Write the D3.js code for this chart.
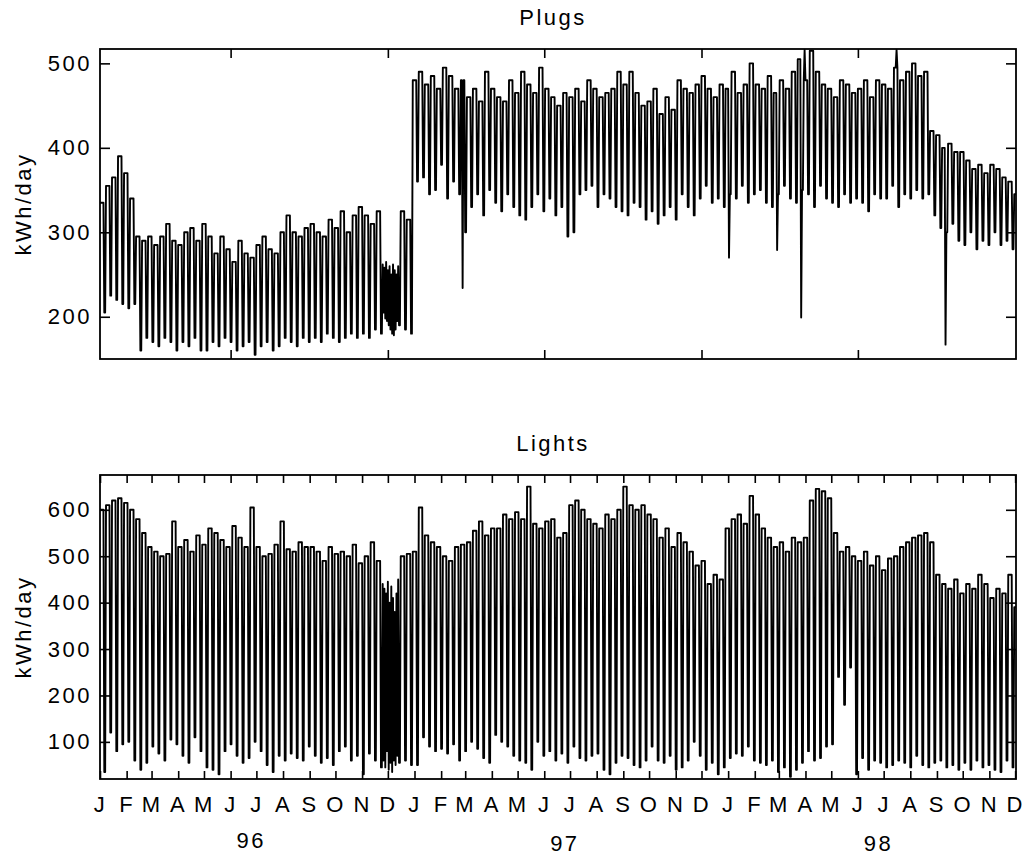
<!DOCTYPE html>
<html>
<head>
<meta charset="utf-8">
<script src="https://cdn.jsdelivr.net/npm/d3@7"></script>
<style>
body { margin: 0; background: #fff; }
svg { display: block; font-family: "Liberation Sans", Arial, sans-serif; }
.lbl { font-size: 22px; letter-spacing: 2.5px; fill: #000; }
</style>
</head>
<body>
<div id="chart"></div>
<script>
// Daily energy use.
// Weeks start Monday 1 Jan 1996; Mon-Fri take the weekday level, Sat-Sun the weekend level.
const weekStart = "1996-01-01";
const axisEnd = "1998-12-02";

const plugsWeekday = [
  // 1996 J F M A M J J A S O N D
  335, 355, 365, 390, 370,  340, 295, 290, 295,  285, 295, 310, 290,  285, 300, 305, 290,
  310, 295, 275, 295, 280,  265, 290, 275, 270,  285, 295, 280, 275, 300,  320, 300, 295, 305,
  310, 300, 295, 315,  305, 325, 300, 320,  330, 320, 310, 325, 320,  265, 260, 325, 315,
  // 1997
  480,  490, 475, 485, 470,  495, 485, 470, 480,  460, 470, 455, 490,  470, 460, 455, 480, 465,
  490, 475, 465, 495,  470, 460, 450, 465,  460, 470, 455, 480, 470,  460, 465, 470, 490,
  475, 490, 465, 450,  455, 470, 440, 460, 445,  480, 470, 465, 475,  485, 470, 460, 475,
  // 1998
  470,  490, 465, 475, 500,  475, 470, 485, 465,  480, 470, 490, 505,  480, 515, 490, 475, 470,
  460, 480, 475, 465,  470, 480, 460, 480,  475, 470, 495, 480, 490,  500, 485, 490,  420,
  415, 400, 405, 395,  395, 385, 375, 380, 370,  380, 375, 365, 360,  345
];

const plugsWeekend = [
  // 1996
  205, 225, 220, 215, 210,  215, 160, 175, 170,  165, 175, 170, 160,  170, 165, 175, 160,
  160, 170, 165, 175, 170,  160, 165, 170, 155,  165, 170, 160, 165, 175,  170, 165, 175, 170,
  175, 170, 180, 175,  170, 175, 180, 175,  180, 175, 185, 180, 190,  200, 190, 185, 180,
  // 1997
  360,  365, 345, 350, 380,  340, 360, 345, 300,  330, 345, 320, 350,  335, 325, 345, 330, 320,
  315, 330, 345, 325,  340, 320, 330, 295,  300, 345, 350, 355, 330,  345, 340, 330, 325,
  320, 335, 330, 315,  325, 310, 320, 330, 315,  345, 330, 320, 340,  355, 335, 340, 330,
  // 1998
  345,  340, 355, 335, 345,  350, 335, 330, 345,  355, 340, 335, 350,  345, 330, 355, 340, 335,
  330, 345, 335, 340,  335, 325, 345, 340,  340, 355, 330, 345, 340,  350, 340, 345,  320,
  305, 300, 310, 290,  285, 300, 280, 290, 285,  300, 285, 290, 280,  270
];

const lightsWeekday = [
  // 1996
  600, 610, 620, 625, 615,  600, 580, 550, 520,  510, 500, 505, 575,  520, 535, 510, 545,
  525, 560, 550, 535, 520,  565, 540, 520, 605,  520, 500, 505, 525, 575,  515, 510, 530, 520,
  520, 510, 490, 520,  505, 510, 500, 525,  485, 500, 530, 490, 495,  465, 450, 500, 505,
  // 1997
  510,  605, 545, 530, 520,  500, 490, 520, 525,  530, 555, 575, 545,  560, 560, 590, 580, 595,
  580, 650, 570, 560,  575, 580, 540, 550,  610, 620, 600, 580, 570,  560, 590, 580, 600,
  650, 610, 600, 610,  590, 580, 540, 560, 520,  550, 530, 510, 480,  490, 440, 460, 450,
  // 1998
  560,  580, 590, 570, 630,  590, 560, 540, 520,  530, 510, 540, 530,  540, 620, 645, 640, 625,
  550, 510, 520, 500,  490, 510, 480, 500,  470, 495, 500, 520, 530,  540, 545, 550, 530,
  460, 440, 430, 450,  420, 440, 430, 460, 440,  410, 430, 420, 460,  390
];

const lightsWeekend = [
  // 1996
  35, 120, 80, 95, 100,  60, 40, 55, 90,  75, 60, 105, 95,  70, 55, 110, 80,
  45, 40, 30, 80, 95,  70, 55, 65, 100,  80, 50, 35, 70, 60,  75, 65, 60, 90,
  70, 55, 65, 50,  80, 90, 60, 70,  30, 75, 60, 45, 40,  35, 55, 60, 50,
  // 1997
  50,  110, 90, 80, 85,  75, 95, 60, 80,  100, 85, 65, 55,  115, 100, 90, 70, 60,
  55, 40, 100, 70,  80, 60, 75, 55,  90, 65, 60, 70, 75,  40, 30, 55, 70,
  65, 50, 45, 60,  90, 60, 55, 70, 40,  45, 60, 100, 70,  40, 55, 30, 45,
  // 1998
  65,  75, 70, 90, 60,  55, 50, 60, 35,  45, 25, 40, 55,  80, 60, 65, 90, 95,
  240, 180, 260, 30,  65, 40, 60, 55,  45, 50, 60, 55, 45,  70, 50, 45, 55,
  60, 45, 50, 40,  55, 40, 60, 45, 50,  40, 35, 60, 45,  50
];

// single days that break the weekly pattern (holidays, outages, spikes)
const plugsDays = [
  ["1997-02-26", 234], ["1998-01-02", 270], ["1998-02-27", 279],
  ["1998-03-27", 199], ["1998-03-31", 516], ["1998-07-16", 516], ["1998-09-11", 167]
];

// late Nov - mid Dec 1996: values swing day to day
const block96Start = "1996-11-25";
const block96Plugs = [262, 205, 258, 198, 265, 195, 255, 190, 260, 185, 250, 180, 262, 178, 255, 185, 250, 195];
const block96Lights = [440, 60, 430, 45, 420, 80, 445, 40, 400, 55, 435, 35, 410, 60, 380, 50, 420, 70];

const plugsTicks = [200, 300, 400, 500];
const lightsTicks = [100, 200, 300, 400, 500, 600];
const plugsXTicks = ["1996-06-01", "1996-12-01", "1997-06-01", "1997-12-01", "1998-06-01"];
const monthLetters = ["J", "F", "M", "A", "M", "J", "J", "A", "S", "O", "N", "D"];
const years = ["96", "97", "98"];

const parseDate = d3.timeParse("%Y-%m-%d");
const start = parseDate(weekStart);
const end = parseDate(axisEnd);

function buildSeries(weekday, weekend, blockValues, extraDays) {
  const out = [];
  weekday.forEach((v, w) => {
    for (let d = 0; d < 7; d++) {
      const date = d3.timeDay.offset(start, w * 7 + d);
      if (date > end) return;
      out.push({ date: date, value: d < 5 ? v : weekend[w] });
    }
  });
  const b0 = d3.timeDay.count(start, parseDate(block96Start));
  blockValues.forEach((v, i) => { out[b0 + i].value = v; });
  (extraDays || []).forEach(([ds, v]) => {
    const i = d3.timeDay.count(start, parseDate(ds));
    if (out[i]) out[i].value = v;
  });
  return out;
}

const plugs = buildSeries(plugsWeekday, plugsWeekend, block96Plugs, plugsDays);
const lights = buildSeries(lightsWeekday, lightsWeekend, block96Lights, []);

const width = 1028, height = 858;
const left = 100, right = 1016;

const svg = d3.select("#chart").append("svg")
  .attr("width", width)
  .attr("height", height);

const x = d3.scaleTime().domain([start, end]).range([left, right]);

const panels = [
  { title: "Plugs", data: plugs, top: 49, bottom: 359, domain: [150, 517], ticks: plugsTicks, titleY: 25 },
  { title: "Lights", data: lights, top: 475, bottom: 779, domain: [20, 675], ticks: lightsTicks, titleY: 451 }
];

panels.forEach((p, i) => {
  const y = d3.scaleLinear().domain(p.domain).range([p.bottom, p.top]);
  const g = svg.append("g");

  const clipId = "clip" + i;
  svg.append("clipPath").attr("id", clipId)
    .append("rect")
    .attr("x", left).attr("y", p.top)
    .attr("width", right - left).attr("height", p.bottom - p.top);

  const line = d3.line()
    .x(d => x(d.date))
    .y(d => y(d.value));

  g.append("path")
    .datum(p.data)
    .attr("clip-path", "url(#" + clipId + ")")
    .attr("fill", "none")
    .attr("stroke", "#000")
    .attr("stroke-width", 1.9)
    .attr("stroke-linejoin", "round")
    .attr("d", line);

  // y axes, ticks pointing in
  const yl = g.append("g")
    .attr("transform", `translate(${left},0)`)
    .call(d3.axisLeft(y).tickValues(p.ticks).tickSize(-10).tickPadding(8));
  yl.selectAll("text").attr("class", "lbl").attr("font-size", null).attr("font-family", null);

  g.append("g")
    .attr("transform", `translate(${right},0)`)
    .call(d3.axisRight(y).tickValues(p.ticks).tickSize(-10).tickFormat(""));

  // x axes
  let xTicks, fmt;
  if (i === 0) {
    xTicks = plugsXTicks.map(parseDate);
    fmt = "";
  } else {
    xTicks = d3.timeMonth.range(start, d3.timeDay.offset(end, 1));
    fmt = d => monthLetters[d.getMonth()];
  }
  const tickLen = i === 0 ? 9 : 8;
  g.append("g")
    .attr("transform", `translate(0,${p.top})`)
    .call(d3.axisTop(x).tickValues(xTicks).tickSize(-tickLen).tickFormat(""));
  const xb = g.append("g")
    .attr("transform", `translate(0,${p.bottom})`)
    .call(d3.axisBottom(x).tickValues(xTicks).tickSize(-tickLen).tickPadding(17).tickFormat(fmt));
  xb.selectAll("text").attr("class", "lbl").attr("font-size", null).attr("font-family", null);

  g.selectAll(".domain").remove();
  g.selectAll(".tick line").attr("stroke", "#000").attr("stroke-width", 1.6);

  // frame
  g.append("rect")
    .attr("x", left).attr("y", p.top)
    .attr("width", right - left).attr("height", p.bottom - p.top)
    .attr("fill", "none")
    .attr("stroke", "#000")
    .attr("stroke-width", 1.8);

  g.append("text")
    .attr("class", "lbl")
    .attr("x", 553).attr("y", p.titleY)
    .attr("text-anchor", "middle")
    .text(p.title);

  g.append("text")
    .attr("class", "lbl")
    .attr("transform", `translate(31,${(p.top + p.bottom) / 2}) rotate(-90)`)
    .attr("text-anchor", "middle")
    .text("kWh/day");
});

// year labels under the month letters
svg.selectAll(".year")
  .data(years)
  .enter()
  .append("text")
  .attr("class", "lbl year")
  .attr("x", d => x(parseDate("19" + d + "-06-25")))
  .attr("y", (d, i) => i === 0 ? 848 : 851)
  .attr("text-anchor", "middle")
  .text(d => d);
</script>
</body>
</html>
